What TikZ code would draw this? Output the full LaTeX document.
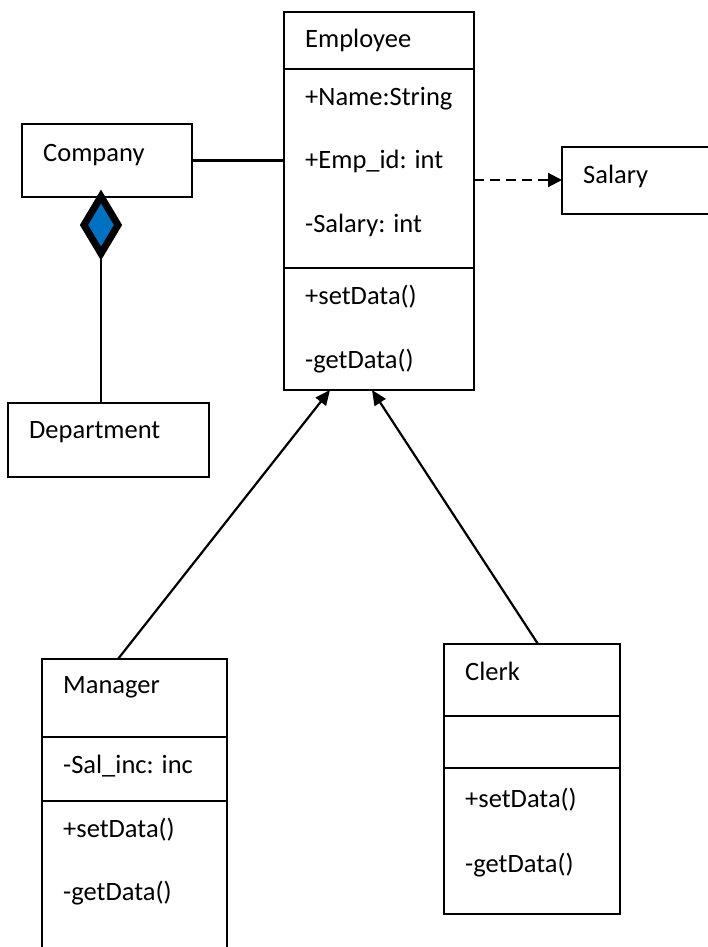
\documentclass[tikz,border=0pt]{standalone}
\usepackage{fontspec}
\setmainfont{Carlito}
\usetikzlibrary{shapes.geometric,arrows.meta}
\definecolor{ublue}{RGB}{0,112,192}
\begin{document}
\begin{tikzpicture}[x=1pt,y=-1pt,
  box/.style={draw,line width=2pt,inner sep=0pt,outer sep=0pt,rectangle},
  div/.style={line width=2pt},
  txt/.style={anchor=base west,inner sep=0pt,font=\fontsize{26.5}{30}\selectfont},
  conn/.style={line width=2.2pt},
  tri/.style={-{Triangle[length=15pt,width=13pt]}}]
\path[use as bounding box] (0,0) rectangle (708,947);
\clip (0,0) rectangle (708,947);
% boxes
\node[box,minimum width=190.5pt,minimum height=378pt] (emp) at (378.75,201) {};
\node[box,minimum width=170pt,minimum height=73pt] (com) at (107,160.5) {};
\node[box,minimum width=201.5pt,minimum height=74pt] (dep) at (108.25,440) {};
\node[box,minimum width=150pt,minimum height=67pt] (sal) at (637,180.5) {};
\node[box,minimum width=185pt,minimum height=301pt] (man) at (134.5,809.5) {};
\node[box,minimum width=176pt,minimum height=270pt] (clk) at (532,779) {};
% dividers
\draw[div] (emp.west |- 0,69) -- (emp.east |- 0,69);
\draw[div] (emp.west |- 0,268) -- (emp.east |- 0,268);
\draw[div] (man.west |- 0,737) -- (man.east |- 0,737);
\draw[div] (man.west |- 0,801) -- (man.east |- 0,801);
\draw[div] (clk.west |- 0,716) -- (clk.east |- 0,716);
\draw[div] (clk.west |- 0,768) -- (clk.east |- 0,768);
% texts
\node[txt] (t1) at (305,48) {Employee};
\node[txt] (t2) at (305,106) {+Name:String};
\node[txt] (t3) at (305,168) {+Emp\_id: int};
\node[txt] (t4) at (305,232) {-Salary: int};
\node[txt] (t5) at (305,304) {+setData()};
\node[txt] (t6) at (305,368) {-getData()};
\node[txt] (t7) at (43,161) {Company};
\node[txt] (t8) at (29,438) {Department};
\node[txt] (t9) at (583,183) {Salary};
\node[txt] (t10) at (63,693) {Manager};
\node[txt] (t11) at (63,773) {-Sal\_inc: inc};
\node[txt] (t12) at (63,837) {+setData()};
\node[txt] (t13) at (63,900) {-getData()};
\node[txt] (t14) at (465,680) {Clerk};
\node[txt] (t15) at (465,807) {+setData()};
\node[txt] (t16) at (465,872) {-getData()};
% diamond
\node[diamond,draw,line width=7pt,fill=ublue,inner sep=0pt,minimum width=37pt,minimum height=60pt] (dia) at (101,225) {};
% connectors
\draw[conn] (com.east) -- (com.east -| emp.west);
\draw[conn] (dia.south) -- (dia.south |- dep.north);
\draw[conn,dash pattern=on 10pt off 6pt,-{Triangle[length=14pt,width=14pt]}] (emp.east |- 0,180) -- (sal.west |- 0,180);
\draw[conn,tri] ([xshift=76pt]man.north west) -- ([xshift=46.5pt]emp.south west);
\draw[conn,tri] ([xshift=94pt]clk.north west) -- ([xshift=88.5pt]emp.south west);
\end{tikzpicture}
\end{document}
